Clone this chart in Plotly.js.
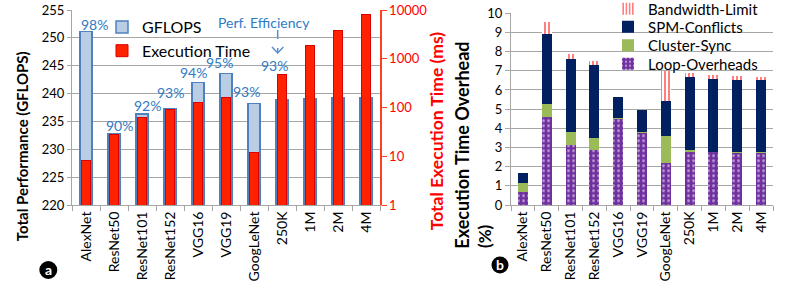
<!DOCTYPE html>
<html>
<head>
<meta charset="utf-8">
<script src="https://cdn.plot.ly/plotly-3.0.1.min.js"></script>
<style>html,body{margin:0;padding:0;background:#fff;}#chart{width:789px;height:294px;}</style>
</head>
<body>
<div id="chart"></div>
<script>
// ---- data ----
const categories = ["AlexNet","ResNet50","ResNet101","ResNet152","VGG16","VGG19","GoogLeNet","250K","1M","2M","4M"];
const gflops = [251.1, 232.7, 236.3, 237.2, 242.0, 243.6, 238.2, 238.9, 239.15, 239.2, 239.2];
const execTimeMs = [8, 28.6, 61, 93, 128, 159, 11.8, 480, 1910, 3760, 7930];
const efficiencyLabels = ["98%","90%","92%","93%","94%","95%","93%","93%"];
const loopOverheads = [0.67, 4.6, 3.15, 2.85, 4.5, 3.78, 2.2, 2.77, 2.74, 2.72, 2.7];
const clusterSync   = [0.5, 0.65, 0.65, 0.67, 0.05, 0.04, 1.38, 0.08, 0.05, 0.04, 0.04];
const spmConflicts  = [0.52, 3.65, 3.8, 3.77, 1.1, 1.12, 1.85, 3.83, 3.8, 3.78, 3.76];
const bandwidthLimit= [0, 0.65, 0.3, 0.23, 0, 0, 1.57, 0.2, 0.2, 0.2, 0.2];

const FONT = "Lato, 'Open Sans', sans-serif";
const GRID = "#A6A6A6";
const BLUE_TXT = "#2F7BC4";

const traces = [
  {type:"bar", name:"GFLOPS", x:categories, y:gflops, xaxis:"x", yaxis:"y", width:0.42,
   marker:{color:"#B9CDE5", line:{color:"#4F81BD", width:1.5}}, legend:"legend", legendgroup:"g1"},
  {type:"bar", name:"Execution Time", x:categories, y:execTimeMs, xaxis:"x", yaxis:"y2", width:0.29,
   marker:{color:"#FF2200", line:{color:"#D90000", width:1}}, legend:"legend", legendgroup:"g2"},
  {type:"bar", name:"Loop-Overheads", x:categories, y:loopOverheads, xaxis:"x2", yaxis:"y3", width:0.42,
   marker:{color:"#7030A0", line:{width:0}, pattern:{shape:".", fgcolor:"#FFFFFF", bgcolor:"#7030A0", size:5, solidity:0.25, fillmode:"overlay"}}, legend:"legend5"},
  {type:"bar", name:"Cluster-Sync", x:categories, y:clusterSync, xaxis:"x2", yaxis:"y3", width:0.42,
   marker:{color:"#9BBB59", line:{width:0}}, legend:"legend4"},
  {type:"bar", name:"SPM-Conflicts", x:categories, y:spmConflicts, xaxis:"x2", yaxis:"y3", width:0.42,
   marker:{color:"#002060", line:{width:0}}, legend:"legend3"},
  {type:"bar", name:"Bandwidth-Limit", x:categories, y:bandwidthLimit, xaxis:"x2", yaxis:"y3", width:0.42,
   marker:{color:"#FFFFFF", line:{width:0}, pattern:{shape:"|", fgcolor:"#FF0000", bgcolor:"#FFFFFF", size:4, solidity:0.5, fillmode:"overlay"}}, legend:"legend2"}
];

// annotations
const pxX = px => (px - 72) / 701;
const pxY = py => (205 - py) / 195;
const labelShiftX = [8, 5.5, 5.5, 0.5, -5, -7, -8, -8];
const labelShiftY = [7.5, 9, 9, 17, 9.7, 11, 12, 9];
const annotations = [];
efficiencyLabels.forEach((t, i) => {
  const onTime = i === 7;
  annotations.push({
    text: t, x: categories[i], xref: "x",
    y: onTime ? Math.log10(execTimeMs[i]) : gflops[i], yref: onTime ? "y2" : "y",
    yanchor: "middle", xanchor: "center", showarrow: false,
    xshift: labelShiftX[i], yshift: labelShiftY[i],
    font: {family: FONT, size: 14, color: BLUE_TXT}
  });
});
function paperText(text, px, py, size, color, angle) {
  return {text:text, xref:"paper", yref:"paper", x:pxX(px), y:pxY(py), xanchor:"center", yanchor:"middle",
    textangle:angle || 0, showarrow:false, font:{family:FONT, size:size, color:color}};
}
annotations.push(paperText("Perf. Efficiency", 263.5, 22.5, 14, BLUE_TXT));
annotations.push(paperText("<b>Total Performance (GFLOPS)</b>", 21.7, 146.5, 15, "#000", -90));
annotations.push(paperText("<b>Total Execution Time (ms)</b>", 436.7, 131.5, 17.5, "#FF0000", -90));
annotations.push(paperText("<b>Execution Time Overhead</b>", 461.7, 145, 18, "#000", -90));
annotations.push(paperText("<b>(%)</b>", 485, 236, 17, "#000", -90));
annotations.push(paperText("<b>a</b>", 48.3, 269, 14, "#fff"));
annotations.push(paperText("<b>b</b>", 500, 264, 14, "#fff"));

const shapes = [
  {type:"line", xref:"paper", yref:"paper", x0:pxX(277.7), x1:pxX(277.7), y0:pxY(30), y1:pxY(52.5),
   line:{color:"#5B8FCB", width:1.5, dash:"dash"}},
  {type:"path", xref:"paper", yref:"paper",
   path:`M ${pxX(272)} ${pxY(47)} L ${pxX(277.7)} ${pxY(53)} L ${pxX(283.4)} ${pxY(47)}`,
   line:{color:"#5B8FCB", width:1.5}},
  {type:"circle", xref:"paper", yref:"paper", x0:pxX(39.3), x1:pxX(57.3), y0:pxY(279), y1:pxY(261),
   fillcolor:"#000", line:{width:0}},
  {type:"circle", xref:"paper", yref:"paper", x0:pxX(491.5), x1:pxX(508.5), y0:pxY(273.5), y1:pxY(256.5),
   fillcolor:"#000", line:{width:0}}
];

const catAxis = {
  type:"category", categoryorder:"array", categoryarray:categories, tickangle:-90,
  tickson:"boundaries", ticks:"outside", ticklen:5, tickcolor:GRID, showline:true, linecolor:GRID,
  showgrid:false, tickfont:{family:FONT, size:14, color:"#000"}, fixedrange:true
};

function rightLegend(py) {
  return {x:pxX(608), y:pxY(py), xanchor:"left", yanchor:"middle", bgcolor:"rgba(0,0,0,0)",
          font:{family:FONT, size:15, color:"#000"}};
}

const layout = {
  width:789, height:294,
  margin:{l:72, r:16, t:10, b:89, autoexpand:false},
  paper_bgcolor:"#fff", plot_bgcolor:"rgba(0,0,0,0)",
  font:{family:FONT, color:"#000"},
  barmode:"stack",
  xaxis: Object.assign({}, catAxis, {domain:[0, pxX(380)], anchor:"y"}),
  xaxis2: Object.assign({}, catAxis, {domain:[pxX(511), 1], anchor:"y3"}),
  yaxis: {range:[220,255], dtick:5, domain:[0,1], anchor:"x", showgrid:true, gridcolor:GRID, gridwidth:1,
          showline:true, linecolor:GRID, ticks:"outside", ticklen:4, tickcolor:GRID,
          tickfont:{family:FONT, size:13, color:"#000"}, zeroline:false},
  yaxis2: {type:"log", range:[0,4], overlaying:"y", side:"right", anchor:"x", showgrid:false,
           showline:true, linecolor:"#FF4020", linewidth:1.5, ticks:"outside", ticklen:5, tickcolor:"#FF4020",
           tickvals:[1,10,100,1000,10000], ticktext:["1","10","100","1000","10000"],
           tickfont:{family:FONT, size:13, color:"#FF0000"}},
  yaxis3: {range:[0,10], dtick:1, domain:[0, 0.983], anchor:"x2", showgrid:true, gridcolor:GRID, gridwidth:1,
           showline:true, linecolor:GRID, ticks:"outside", ticklen:5, tickcolor:GRID,
           tickfont:{family:FONT, size:13, color:"#000"}, zeroline:false},
  legend: {x:pxX(102), y:1.0, xanchor:"left", yanchor:"top", bgcolor:"rgba(0,0,0,0)",
           font:{family:FONT, size:16, color:"#000"}, tracegroupgap:6, traceorder:"normal"},
  legend2: rightLegend(9),
  legend3: rightLegend(27),
  legend4: rightLegend(45.5),
  legend5: rightLegend(64),
  showlegend:true,
  annotations: annotations,
  shapes: shapes
};

Plotly.newPlot("chart", traces, layout, {staticPlot:true, displayModeBar:false});
</script>
</body>
</html>
